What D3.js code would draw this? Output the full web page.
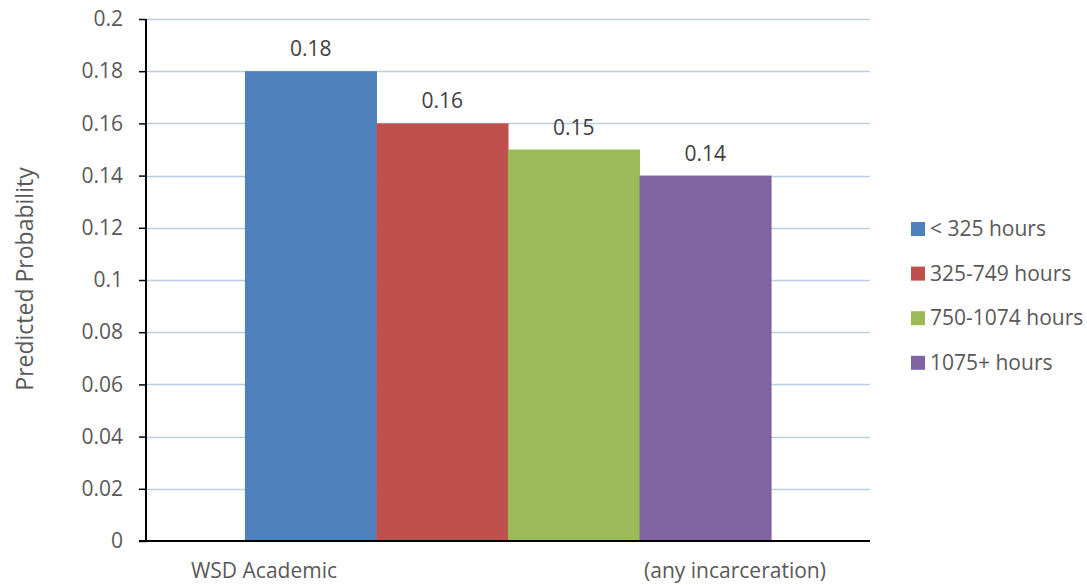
<!DOCTYPE html>
<html>
<head>
<meta charset="utf-8">
<script src="https://cdn.jsdelivr.net/npm/d3@7"></script>
<style>
  html, body { margin: 0; padding: 0; background: #fff; }
  svg { display: block; }
  text { font-family: "Open Sans", "Liberation Sans", sans-serif; }
</style>
</head>
<body>
<svg id="chart" width="1087" height="585"></svg>
<script>
const categories = ["< 325 hours", "325-749 hours", "750-1074 hours", "1075+ hours"];
const values = [0.18, 0.16, 0.15, 0.14];
const colors = ["#4F81BD", "#C0504D", "#9BBB59", "#8064A2"];
const yTicks = [0, 0.02, 0.04, 0.06, 0.08, 0.1, 0.12, 0.14, 0.16, 0.18, 0.2];
const yTickLabels = ["0", "0.02", "0.04", "0.06", "0.08", "0.1", "0.12", "0.14", "0.16", "0.18", "0.2"];
const groupLabelParts = ["WSD Academic", "(any incarceration)"];
const yTitle = "Predicted Probability";

const svg = d3.select("#chart");
const m = { left: 146, right: 870, top: 19, bottom: 541 };
const textColor = "#595959";
const fs = 21;

const y = d3.scaleLinear().domain([0, 0.2]).range([m.bottom, m.top]);
const xGroup = d3.scaleBand().domain(["g"]).range([m.left, m.right]).paddingInner(0).paddingOuter(0.188);
const xBar = d3.scaleBand().domain(categories).range([xGroup("g"), xGroup("g") + xGroup.bandwidth()]).padding(0);

// gridlines
svg.append("g").selectAll("line").data(yTicks.filter(d => d > 0)).join("line")
  .attr("x1", m.left).attr("x2", m.right)
  .attr("y1", d => Math.round(y(d)) + 0.5).attr("y2", d => Math.round(y(d)) + 0.5)
  .attr("stroke", "#B9CDE5").attr("stroke-width", 1.5);

// bars
svg.append("g").selectAll("rect").data(values).join("rect")
  .attr("x", (d, i) => xBar(categories[i]))
  .attr("width", xBar.bandwidth() + 0.5)
  .attr("y", d => y(d))
  .attr("height", d => y(0) - y(d))
  .attr("fill", (d, i) => colors[i]);

// data labels
svg.append("g").selectAll("text").data(values).join("text")
  .attr("x", (d, i) => xBar(categories[i]) + xBar.bandwidth() / 2)
  .attr("y", d => y(d) - 15)
  .attr("text-anchor", "middle")
  .attr("font-size", fs)
  .attr("fill", "#404040")
  .text(d => d.toFixed(2));

// y axis
const yAxis = d3.axisLeft(y).tickValues(yTicks).tickSize(7).tickPadding(16)
  .tickFormat((d, i) => yTickLabels[i]);
const ga = svg.append("g").attr("transform", `translate(${m.left},0)`).call(yAxis);
ga.attr("font-size", fs).attr("font-family", "\"Open Sans\", \"Liberation Sans\", sans-serif");
ga.select(".domain").attr("stroke", "#000").attr("stroke-width", 2).attr("d", `M0,${m.top}V${m.bottom}`);
ga.selectAll(".tick line").attr("stroke", "#000").attr("stroke-width", 1.5);
ga.selectAll(".tick text").attr("fill", textColor);

// x axis line
svg.append("line").attr("x1", m.left - 7).attr("x2", m.right)
  .attr("y1", y(0)).attr("y2", y(0)).attr("stroke", "#000").attr("stroke-width", 2);

// category label pieces
svg.append("text").attr("x", 264).attr("y", 578).attr("text-anchor", "middle")
  .attr("font-size", fs).attr("fill", textColor).text(groupLabelParts[0]);
svg.append("text").attr("x", 735).attr("y", 578).attr("text-anchor", "middle")
  .attr("font-size", fs).attr("fill", textColor).text(groupLabelParts[1]);

// y title
svg.append("text").attr("transform", "translate(33,279) rotate(-90)")
  .attr("text-anchor", "middle").attr("font-size", 23).attr("fill", textColor).text(yTitle);

// legend
const lg = svg.append("g").selectAll("g").data(categories).join("g")
  .attr("transform", (d, i) => `translate(911,${229 + i * 44.6})`);
lg.append("rect").attr("x", 0).attr("y", -7).attr("width", 14).attr("height", 14)
  .attr("fill", (d, i) => colors[i]);
lg.append("text").attr("x", 19).attr("y", 7).attr("font-size", fs).attr("fill", textColor).text(d => d);
</script>
</body>
</html>
